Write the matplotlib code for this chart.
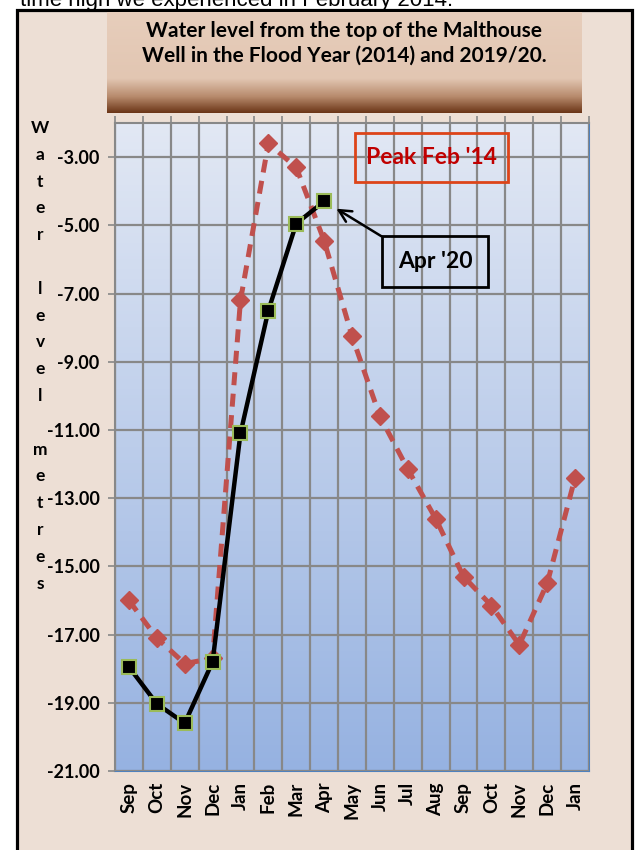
import matplotlib.pyplot as plt
import numpy as np
from matplotlib.patches import Rectangle
from matplotlib.colors import to_rgb

# data (metres from top of well)
months = ["Sep", "Oct", "Nov", "Dec", "Jan", "Feb", "Mar", "Apr", "May",
          "Jun", "Jul", "Aug", "Sep", "Oct", "Nov", "Dec", "Jan"]
level_2014 = [-16.0, -17.1, -17.85, -17.7, -7.2, -2.6, -3.3, -5.45, -8.25,
              -10.6, -12.15, -13.6, -15.3, -16.15, -17.3, -15.5, -12.4]
level_2020 = [-17.95, -19.03, -19.6, -17.8, -11.1, -7.5, -4.95, -4.3]
yticks = [-21, -19, -17, -15, -13, -11, -9, -7, -5, -3]
title = "Water level from the top of the Malthouse\nWell in the Flood Year (2014) and 2019/20."
ylabel = "Water level metres"

W, H = 640, 850
fig = plt.figure(figsize=(6.4, 8.5), dpi=100, facecolor="white")

def fx(px):
    return px / W

def fy(py):
    return 1 - py / H

# outer frame
fig.patches.append(Rectangle((fx(17), -0.05), fx(632) - fx(17), fy(10) + 0.05,
                             transform=fig.transFigure, facecolor="#EDDFD5",
                             edgecolor="black", linewidth=2.3, zorder=-5))

# cut-off text at the very top
fig.text(fx(20), fy(6), "time high we experienced in February 2014.",
         fontsize=16, family="Liberation Sans", va="baseline", ha="left")

# title box with gradient
tax = fig.add_axes([fx(107), fy(113), fx(581) - fx(107), fy(12) - fy(113)])
stops = [0, 0.66, 0.84, 1.0]
cols = [to_rgb(c) for c in ["#E7CEBC", "#E2C6B2", "#B78A6C", "#6B3517"]]
t = np.linspace(0, 1, 200)
grad = np.stack([np.interp(t, stops, [c[i] for c in cols]) for i in range(3)], axis=1)
tax.imshow(grad[:, None, :], aspect="auto", extent=[0, 1, 0, 1])
tax.set_axis_off()
tax.text(0.5, 0.69, title, ha="center", va="center", fontsize=15,
         fontweight="bold", family="Lato", linespacing=1.3)

# main axes
left, right, top, bottom = 115, 589, 123, 771
ax = fig.add_axes([fx(left), fy(bottom), fx(right) - fx(left), fy(top) - fy(bottom)])
n = len(months)

bg = np.linspace(0, 1, 200)
bcols = [to_rgb("#E2E8F4"), to_rgb("#96B2E1")]
bgrad = np.stack([np.interp(bg, [0, 1], [bcols[0][i], bcols[1][i]]) for i in range(3)], axis=1)
ax.imshow(bgrad[:, None, :], aspect="auto", extent=[-0.5, n - 0.5, -21, -2],
          origin="upper", zorder=0)

x = np.arange(n)
ax.plot(x, level_2014, color="#C0504D", linewidth=3.6, linestyle=(0, (2.6, 1.7)),
        marker="D", markersize=9, markeredgecolor="#C0504D", zorder=3)
ax.plot(np.arange(len(level_2020)), level_2020, color="black", linewidth=3.2,
        marker="s", markersize=10, markerfacecolor="black",
        markeredgecolor="#9BBB59", markeredgewidth=1.5, zorder=4)
ax.set_xlim(-0.5, n - 0.5)
ax.set_ylim(-21, -2)

# grid
ax.set_xticks(np.arange(-0.5, n, 1))
ax.set_xticks(x, minor=True)
ax.set_xticklabels([])
ax.set_xticklabels(months, minor=True, rotation=90, fontsize=13.5,
                   fontweight="bold", family="Lato")
ax.tick_params(axis="x", which="major", bottom=False, top=True, length=5,
               color="#888888", width=1.2)
ax.tick_params(axis="x", which="minor", bottom=False, length=0, pad=8)
ax.grid(True, axis="x", which="major", color="#888888", linewidth=1.6, zorder=1)
ax.set_yticks(yticks)
ax.set_yticklabels(["%.2f" % v for v in yticks], fontsize=13,
                   fontweight="bold", family="Lato")
ax.tick_params(axis="y", length=5, color="#888888", width=1.2, pad=6)
ax.grid(True, axis="y", color="#888888", linewidth=1.6, zorder=1)
ax.set_axisbelow(False)
for line in ax.get_xgridlines() + ax.get_ygridlines():
    line.set_zorder(1)

ax.spines["left"].set_color("#888888")
ax.spines["top"].set_color("#888888")
ax.spines["right"].set_color("#4F81BD")
ax.spines["bottom"].set_color("#4F81BD")
for s in ax.spines.values():
    s.set_linewidth(1.5)

# annotation boxes
ax.add_patch(Rectangle((0.506, 0.909), 0.323, 0.076, transform=ax.transAxes,
                       facecolor="none", edgecolor="#DD4419", linewidth=2, zorder=5))
ax.text(0.667, 0.946, "Peak Feb '14", transform=ax.transAxes, ha="center",
        va="center", color="#C00000", fontsize=16.5, fontweight="bold",
        family="Lato", zorder=5)
ax.add_patch(Rectangle((0.563, 0.747), 0.224, 0.079, transform=ax.transAxes,
                       facecolor="none", edgecolor="black", linewidth=2, zorder=5))
ax.text(0.675, 0.786, "Apr '20", transform=ax.transAxes, ha="center",
        va="center", color="black", fontsize=16.5, fontweight="bold",
        family="Lato", zorder=5)
ax.annotate("", xy=(0.462, 0.870), xycoords="axes fraction",
            xytext=(0.567, 0.823), textcoords="axes fraction",
            arrowprops=dict(arrowstyle="->", color="black", lw=1.8,
                            mutation_scale=22), zorder=5)

# stacked y label
for i, ch in enumerate(ylabel):
    fig.text(fx(40), fy(128 + i * 26.8), ch, ha="center", va="center",
             fontsize=12.5, fontweight="bold", family="Lato")

fig.savefig("out.png", dpi=100)
